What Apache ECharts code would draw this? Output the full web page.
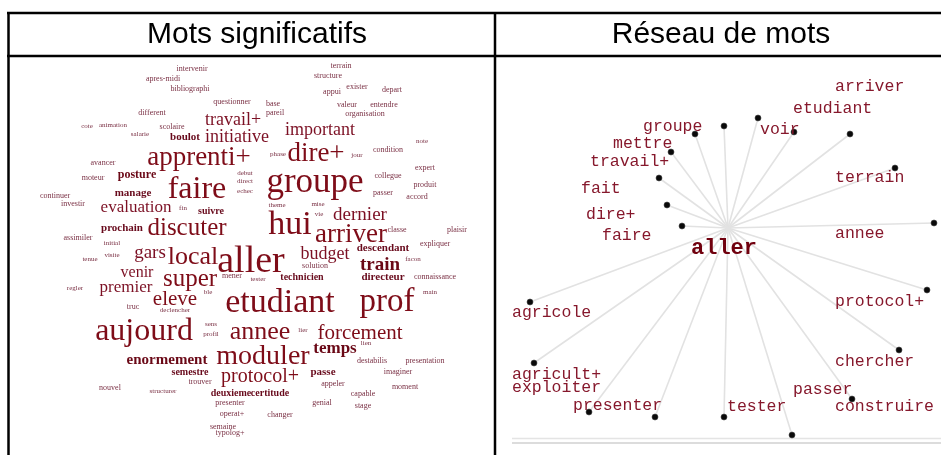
<!DOCTYPE html>
<html><head><meta charset="utf-8">
<script src="https://cdn.jsdelivr.net/npm/echarts@6/dist/echarts.min.js"></script>
<style>html,body{margin:0;padding:0;background:#fff}#c{width:941px;height:455px}</style>
</head><body><div id="c"></div>
<script>
// ---- Header texts
const headers = ['Mots significatifs', 'Réseau de mots'];

// ---- Word cloud data (word, estimated weight)
const words = ['intervenir','apres-midi','bibliographi','questionner','terrain','structure','appui','exister','depart','base',
 'pareil','valeur','entendre','organisation','different','cote','animation','scolaire','salarie','travail+',
 'boulot','initiative','important','note','apprenti+','phase','dire+','jour','condition','avancer',
 'moteur','posture','debut','direct','echec','faire','groupe','collegue','expert','produit',
 'passer','accord','manage','continuer','investir','evaluation','fin','suivre','theme','mise',
 'vie','dernier','hui','arriver','classe','plaisir','expliquer','prochain','discuter','assimiler',
 'initial','visite','tenue','gars','local','aller','descendant','budget','facon','solution',
 'train','tester','technicien','directeur','connaissance','venir','super','mener','regler','premier',
 'ble','main','eleve','truc','declencher','etudiant','prof','aujourd','sens','profil',
 'annee','lier','forcement','lien','enormement','moduler','temps','destabilis','presentation','semestre',
 'protocol+','passe','imaginer','trouver','appeler','moment','nouvel','structurer','deuxieme','certitude',
 'capable','presenter','genial','stage','operat+','changer','semaine','typolog+'];
const freq = [3,3,3,3,3,3,3,3,3,3,
 3,3,3,3,3,2,2,3,2,13,
 6,13,13,2,22,2,22,2,3,3,
 3,7,2,2,2,27,30,3,3,3,
 3,3,6,3,3,12,2,5,2,2,
 2,14,29,22,3,3,3,6,20,3,
 2,2,2,14,21,33,6,13,2,3,
 14,2,5,6,3,11,20,3,2,12,
 2,2,16,3,2,29,28,27,2,2,
 21,2,16,2,10,23,12,3,3,5,
 15,6,3,3,3,3,3,2,5,5,
 3,3,3,3,3,3,3,3];
// layout of the cloud (pixel-like layout units)
const wordX = [192,163,190,232,341,328,332,357,392,273,
 275,347,384,365,152,87,113,172,140,233,
 185,237,320,422,199,278,316,357,388,103,
 93,137,245,245,245,197,315,388,425,425,
 383,417,133,55,73,136,183,211,277,318,
 319,360,290,351,397,457,435,122,187,78,
 112,112,90,150,193,251,383,325,413,315,
 380,258,302,383,435,137,190,232,75,126,
 208,430,175,133,175,280,387,144,211,211,
 260,303,360,366,167,263,335,372,425,190,
 260,323,398,200,333,405,110,163,231,270,
 363,230,322,363,232,280,223,230];
const wordY = [69,79,89,102,66,76,92,87,90,104,
 113,105,105,114,113,126,125,127,134,120,
 137,137,130,141,158,154,154,155,150,163,
 178,175,173,181,191,190,183,176,168,185,
 193,197,193,196,204,208,208,211,205,204,
 214,215,225,235,230,230,244,228,228,238,
 243,255,259,253,257,262,248,254,259,266,
 265,279,277,277,277,273,279,276,288,288,
 292,292,299,307,310,303,302,332,324,334,
 332,330,333,343,360,357,349,361,361,372,
 377,372,372,382,384,387,388,391,393,393,
 394,403,403,406,414,415,427,433];
const boldWords = ['boulot','posture','manage','suivre','prochain','descendant','technicien','directeur','enormement','semestre','passe','deuxieme','certitude','train','temps'];

// ---- Word network data
const centerWord = 'aller';
const netWords = ['arriver','etudiant','groupe','voir','mettre','travail+','terrain','fait','dire+','faire',
 'annee','protocol+','agricole','chercher','agricult+','exploiter','passer','construire','presenter','tester'];
// layout of the network (pixel-like layout units)
const netLabelX = [835,793,643,760,613,590,835,581,586,602,835,835,512,835,512,512,793,835,573,727];
const netLabelY = [87,109,127,130,144,162,178,189,215,236,234,302,313,362,375,388,390,407,406,407];
const nodeX = [695,724,758,794,850,671,659,895,667,682,934,927,530,899,534,852,589,655,724,792];
const nodeY = [134,126,118,132,134,152,178,168,205,226,223,290,302,350,363,399,412,417,417,435];
const hub = [728, 228];
const hubLabel = [724, 248];

const chart = echarts.init(document.getElementById('c'), null, {renderer: 'canvas'});

function wordColor(size, bold) {
  if (size >= 20) return '#7e0c18';
  if (size >= 12) return bold ? '#6a0816' : '#7c1024';
  return bold ? '#680a1c' : '#7a3044';
}

const cloudData = words.map((w, i) => {
  const bold = boldWords.includes(w);
  const size = 5 + freq[i];
  return {
    name: w,
    value: [wordX[i], wordY[i]],
    label: {fontSize: size, color: wordColor(size, bold), fontWeight: bold ? 'bold' : 'normal'}
  };
});

const lineData = nodeX.map((x, i) => ({coords: [hub, [x, nodeY[i]]]}));
const dotData = nodeX.map((x, i) => [x, nodeY[i]]);
const netLabelData = netWords.map((w, i) => ({name: w, value: [netLabelX[i], netLabelY[i]]}));

const option = {
  animation: false,
  backgroundColor: '#fff',
  title: [
    {text: headers[0], left: 252, top: 15, textAlign: 'center',
     textStyle: {fontFamily: 'Liberation Sans', fontSize: 30, fontWeight: 'normal', color: '#000'}},
    {text: headers[1], left: 716, top: 15, textAlign: 'center',
     textStyle: {fontFamily: 'Liberation Sans', fontSize: 30, fontWeight: 'normal', color: '#000'}}
  ],
  grid: [
    {left: 8, top: 56, width: 487, height: 399},
    {left: 495, top: 56, width: 446, height: 399}
  ],
  xAxis: [
    {type: 'value', gridIndex: 0, min: 8, max: 495, show: false},
    {type: 'value', gridIndex: 1, min: 495, max: 941, show: false}
  ],
  yAxis: [
    {type: 'value', gridIndex: 0, min: 56, max: 455, inverse: true, show: false},
    {type: 'value', gridIndex: 1, min: 56, max: 455, inverse: true, show: false}
  ],
  series: [
    {
      type: 'scatter', xAxisIndex: 0, yAxisIndex: 0, symbolSize: 0, silent: true,
      itemStyle: {opacity: 1},
      label: {show: true, position: 'inside', formatter: p => p.name, fontFamily: 'Liberation Serif'},
      labelLayout: {hideOverlap: false},
      data: cloudData
    },
    {
      type: 'lines', coordinateSystem: 'cartesian2d', xAxisIndex: 1, yAxisIndex: 1, silent: true,
      lineStyle: {color: '#e2e2e2', width: 1.6, opacity: 1},
      data: lineData
    },
    {
      type: 'scatter', xAxisIndex: 1, yAxisIndex: 1, silent: true, symbol: 'circle', symbolSize: 6,
      itemStyle: {color: '#0a0a0a', borderColor: '#444', borderWidth: 0.6, opacity: 1},
      data: dotData, z: 3
    },
    {
      type: 'scatter', xAxisIndex: 1, yAxisIndex: 1, silent: true, symbolSize: 0,
      itemStyle: {opacity: 1},
      label: {show: true, position: 'right', distance: 0, formatter: p => p.name,
        fontFamily: 'Liberation Mono', fontSize: 16.5, color: '#86182c'},
      labelLayout: {hideOverlap: false},
      data: netLabelData, z: 4
    },
    {
      type: 'scatter', xAxisIndex: 1, yAxisIndex: 1, silent: true, symbolSize: 0,
      itemStyle: {opacity: 1},
      label: {show: true, position: 'inside', formatter: p => p.name,
        fontFamily: 'Liberation Mono', fontSize: 22, fontWeight: 'bold', color: '#70000e'},
      data: [{name: centerWord, value: hubLabel}], z: 5
    }
  ],
  graphic: [
    {type: 'line', shape: {x1: 7, y1: 13, x2: 941, y2: 13}, style: {stroke: '#000', lineWidth: 2.5}},
    {type: 'line', shape: {x1: 7, y1: 56, x2: 941, y2: 56}, style: {stroke: '#000', lineWidth: 2.5}},
    {type: 'line', shape: {x1: 8.5, y1: 12, x2: 8.5, y2: 455}, style: {stroke: '#000', lineWidth: 2.5}},
    {type: 'line', shape: {x1: 495, y1: 12, x2: 495, y2: 455}, style: {stroke: '#000', lineWidth: 2.5}},
    {type: 'line', shape: {x1: 512, y1: 438.5, x2: 941, y2: 438.5}, style: {stroke: '#e4e4e4', lineWidth: 1.5}},
    {type: 'line', shape: {x1: 512, y1: 443, x2: 941, y2: 443}, style: {stroke: '#d0d0d0', lineWidth: 1.5}}
  ]
};
chart.setOption(option);
</script>
</body></html>
